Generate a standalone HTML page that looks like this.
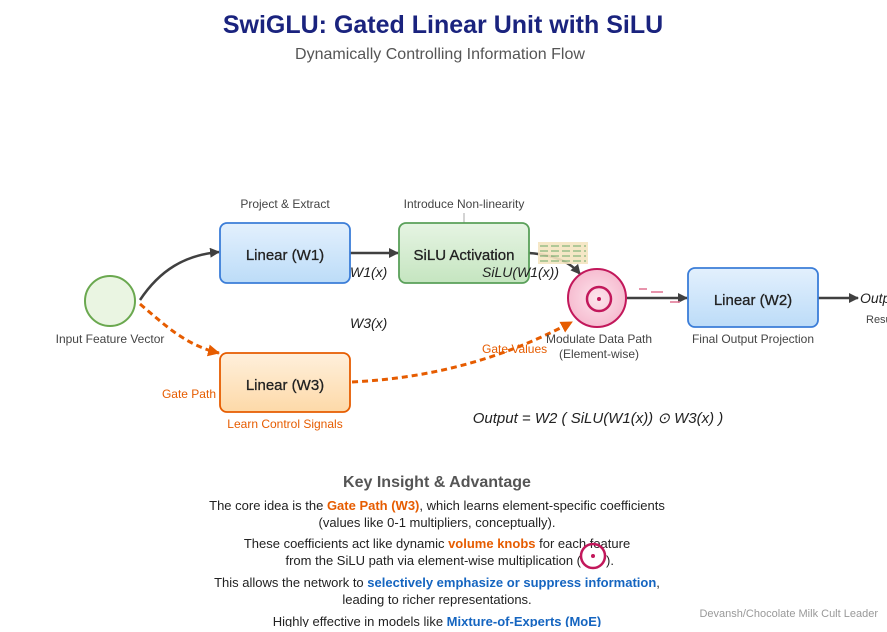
<!DOCTYPE html>
<html><head><meta charset="utf-8"><style>
body{margin:0;background:#fff;width:887px;height:627px;overflow:hidden;font-family:"Liberation Sans",sans-serif}
</style></head><body>
<svg width="887" height="627" viewBox="0 0 887 627" xmlns="http://www.w3.org/2000/svg" font-family="Liberation Sans, sans-serif">
<defs>
<linearGradient id="gb" x1="0" y1="0" x2="0" y2="1"><stop offset="0" stop-color="#e3f0fd"/><stop offset="1" stop-color="#bcdcf8"/></linearGradient>
<linearGradient id="gg" x1="0" y1="0" x2="0" y2="1"><stop offset="0" stop-color="#e6f4e3"/><stop offset="1" stop-color="#c5e5c0"/></linearGradient>
<linearGradient id="go" x1="0" y1="0" x2="0" y2="1"><stop offset="0" stop-color="#fff0dc"/><stop offset="1" stop-color="#fdd9a8"/></linearGradient>
<radialGradient id="gp"><stop offset="0" stop-color="#fde4ec"/><stop offset="1" stop-color="#f6bcd0"/></radialGradient>
<marker id="ad" markerWidth="10" markerHeight="10" refX="9" refY="5" orient="auto" markerUnits="userSpaceOnUse"><path d="M0,0L10,5L0,10z" fill="#404040"/></marker>
<marker id="ao" markerWidth="12" markerHeight="12" refX="11" refY="6" orient="auto" markerUnits="userSpaceOnUse"><path d="M0,0L12,6L0,12z" fill="#e65c00"/></marker>
</defs>
<text x="443" y="33" text-anchor="middle" font-size="25" font-weight="bold" fill="#1a237e">SwiGLU: Gated Linear Unit with SiLU</text>
<text x="440" y="59" text-anchor="middle" font-size="16" fill="#555">Dynamically Controlling Information Flow</text>

<path d="M140,300 C160,270 185,255 219,252" fill="none" stroke="#404040" stroke-width="2.5" marker-end="url(#ad)"/>
<path d="M140,304 C165,325 185,345 219,353" fill="none" stroke="#e65c00" stroke-width="3" stroke-dasharray="6,4" marker-end="url(#ao)"/>
<line x1="350" y1="253" x2="398" y2="253" stroke="#404040" stroke-width="2.5" marker-end="url(#ad)"/>
<path d="M529,253 C555,255 570,262 580,274" fill="none" stroke="#404040" stroke-width="2.5" marker-end="url(#ad)"/>
<path d="M352,382 C430,378 500,360 572,322" fill="none" stroke="#e65c00" stroke-width="3" stroke-dasharray="6,4" marker-end="url(#ao)"/>
<line x1="627" y1="298" x2="687" y2="298" stroke="#404040" stroke-width="2.5" marker-end="url(#ad)"/>
<line x1="818" y1="298" x2="858" y2="298" stroke="#404040" stroke-width="2.5" marker-end="url(#ad)"/>
<path d="M639,289h8M651,292h12M670,302h10" stroke="#e07090" stroke-width="1.5"/>
<g opacity="0.9"><rect x="538" y="242" width="50" height="22" fill="#f5e5c0"/><path d="M540,246h46M540,251h46M540,256h46M540,261h46" stroke="#5aa05a" stroke-width="1" stroke-dasharray="8,3"/></g>

<circle cx="110" cy="301" r="25" fill="#eaf5e2" stroke="#6aa84f" stroke-width="2"/>
<text x="110" y="343" text-anchor="middle" font-size="12" fill="#444">Input Feature Vector</text>

<text x="285" y="208" text-anchor="middle" font-size="12" fill="#444">Project &amp; Extract</text>
<rect x="220" y="223" width="130" height="60" rx="7" fill="url(#gb)" stroke="#3b7dd8" stroke-width="1.8"/>
<text x="285" y="260" text-anchor="middle" font-size="15" fill="#222" stroke="#222" stroke-width="0.3">Linear (W1)</text>
<text x="464" y="208" text-anchor="middle" font-size="12" fill="#444">Introduce Non-linearity</text>
<line x1="464" y1="213" x2="464" y2="223" stroke="#aaa"/>
<rect x="399" y="223" width="130" height="60" rx="7" fill="url(#gg)" stroke="#5aa05a" stroke-width="1.8"/>
<text x="464" y="260" text-anchor="middle" font-size="15" fill="#222" stroke="#222" stroke-width="0.3">SiLU Activation</text>
<text x="350" y="277" font-size="14" font-style="italic" fill="#222">W1(x)</text>
<text x="482" y="277" font-size="14" font-style="italic" fill="#222">SiLU(W1(x))</text>
<text x="350" y="328" font-size="14" font-style="italic" fill="#222">W3(x)</text>

<rect x="220" y="353" width="130" height="59" rx="7" fill="url(#go)" stroke="#e65c00" stroke-width="1.8"/>
<text x="285" y="390" text-anchor="middle" font-size="15" fill="#222" stroke="#222" stroke-width="0.3">Linear (W3)</text>
<text x="216" y="398" text-anchor="end" font-size="12" fill="#e65c00">Gate Path</text>
<text x="285" y="428" text-anchor="middle" font-size="12" fill="#e65c00">Learn Control Signals</text>
<text x="482" y="353" font-size="12" fill="#e65c00">Gate Values</text>

<circle cx="597" cy="298" r="29" fill="url(#gp)" stroke="#c2185b" stroke-width="2"/>
<circle cx="599" cy="299" r="12" fill="none" stroke="#c2185b" stroke-width="2.5"/>
<circle cx="599" cy="299" r="2" fill="#c2185b"/>
<text x="599" y="343" text-anchor="middle" font-size="12" fill="#444">Modulate Data Path</text>
<text x="599" y="358" text-anchor="middle" font-size="12" fill="#444">(Element-wise)</text>

<rect x="688" y="268" width="130" height="59" rx="7" fill="url(#gb)" stroke="#3b7dd8" stroke-width="1.8"/>
<text x="753" y="305" text-anchor="middle" font-size="15" fill="#222" stroke="#222" stroke-width="0.3">Linear (W2)</text>
<text x="753" y="343" text-anchor="middle" font-size="12" fill="#444">Final Output Projection</text>
<text x="860" y="303" font-size="14" font-style="italic" fill="#222">Output</text>
<text x="866" y="323" font-size="11" fill="#444">Result</text>

<text x="598" y="423" text-anchor="middle" font-size="15" font-style="italic" fill="#222">Output = W2 ( SiLU(W1(x)) ⊙ W3(x) )</text>

<text x="437" y="487" text-anchor="middle" font-size="16" font-weight="bold" fill="#555">Key Insight &amp; Advantage</text>
<g font-size="13" fill="#222" text-anchor="middle">
<text x="437" y="510">The core idea is the <tspan fill="#e65c00" font-weight="bold">Gate Path (W3)</tspan>, which learns element-specific coefficients</text>
<text x="437" y="527">(values like 0-1 multipliers, conceptually).</text>
<text x="437" y="548">These coefficients act like dynamic <tspan fill="#e65c00" font-weight="bold">volume knobs</tspan> for each feature</text>
<text x="581" y="565" text-anchor="end">from the SiLU path via element-wise multiplication (</text>
<text x="606" y="565" text-anchor="start">).</text>
<text x="437" y="587">This allows the network to <tspan fill="#1565c0" font-weight="bold">selectively emphasize or suppress information</tspan>,</text>
<text x="437" y="604">leading to richer representations.</text>
<text x="437" y="626">Highly effective in models like <tspan fill="#1565c0" font-weight="bold">Mixture-of-Experts (MoE)</tspan></text>
</g>
<circle cx="593" cy="556" r="12" fill="none" stroke="#c2185b" stroke-width="2.5"/>
<circle cx="593" cy="556" r="2" fill="#c2185b"/>
<text x="878" y="617" text-anchor="end" font-size="11" fill="#999">Devansh/Chocolate Milk Cult Leader</text>
</svg>
</body></html>
